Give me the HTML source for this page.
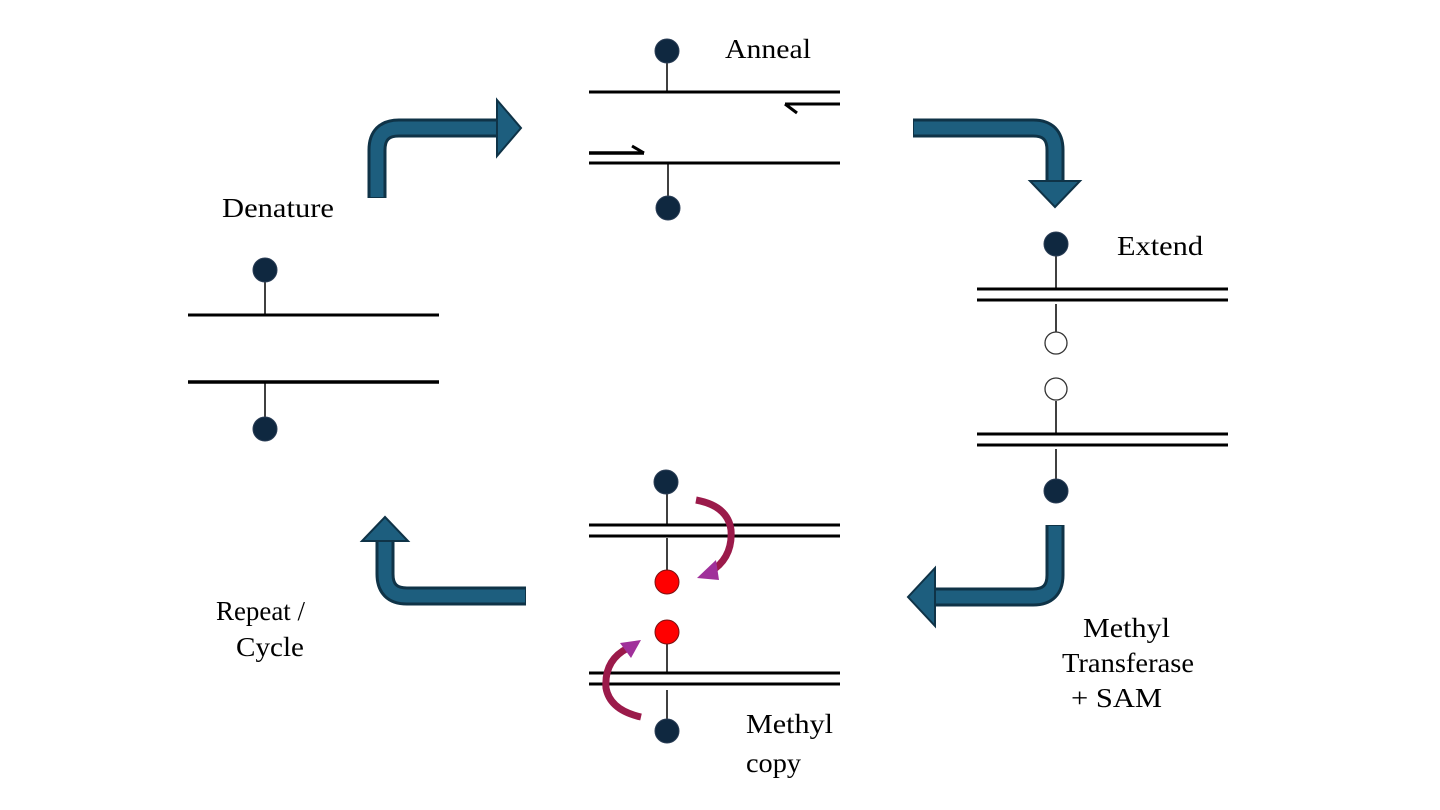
<!DOCTYPE html>
<html><head><meta charset="utf-8"><style>
html,body{margin:0;padding:0;background:#fff;}
svg{display:block;}
text{font-family:"Liberation Serif",serif;font-size:27px;fill:#000;}
</style></head><body>
<svg width="1440" height="810" viewBox="0 0 1440 810" xmlns="http://www.w3.org/2000/svg">
<defs>
<g id="dot"><circle r="12" fill="#0f2840" stroke="#2a3d55" stroke-width="1"/></g>
</defs>
<g stroke-linejoin="miter" fill="none">
<path d="M377 198 V150 Q377 128 399 128 H500" stroke="#0f3347" stroke-width="19"/>
<path d="M377 197 V150 Q377 128 399 128 H502" stroke="#1d5e7e" stroke-width="13"/>
<polygon points="497,100 521,128 497,156" fill="#1d5e7e" stroke="#0f3347" stroke-width="2"/>
<path d="M913 128 H1033 Q1055 128 1055 150 V182" stroke="#0f3347" stroke-width="19"/>
<path d="M914 128 H1033 Q1055 128 1055 150 V184" stroke="#1d5e7e" stroke-width="13"/>
<polygon points="1030,181 1080,181 1055,207" fill="#1d5e7e" stroke="#0f3347" stroke-width="2"/>
<path d="M1055 525 V575 Q1055 597 1033 597 H935" stroke="#0f3347" stroke-width="19"/>
<path d="M1055 526 V575 Q1055 597 1033 597 H933" stroke="#1d5e7e" stroke-width="13"/>
<polygon points="935,568 935,626 908,597" fill="#1d5e7e" stroke="#0f3347" stroke-width="2"/>
<path d="M526 596 H407 Q385 596 385 574 V540" stroke="#0f3347" stroke-width="19"/>
<path d="M525 596 H407 Q385 596 385 574 V538" stroke="#1d5e7e" stroke-width="13"/>
<polygon points="362,541 408,541 385,517" fill="#1d5e7e" stroke="#0f3347" stroke-width="2"/>
</g>

<g stroke="#000" fill="none">
<line x1="265" y1="280" x2="265" y2="315" stroke-width="1.5"/>
<line x1="188" y1="315" x2="439" y2="315" stroke-width="3"/>
<line x1="188" y1="382" x2="439" y2="382" stroke-width="3.5"/>
<line x1="265" y1="382" x2="265" y2="420" stroke-width="1.5"/>
<line x1="667" y1="60" x2="667" y2="92" stroke-width="1.5"/>
<line x1="589" y1="92" x2="840" y2="92" stroke-width="3"/>
<line x1="785" y1="104" x2="840" y2="104" stroke-width="3"/>
<line x1="785" y1="104" x2="797" y2="113" stroke-width="3"/>
<line x1="589" y1="153" x2="644" y2="153" stroke-width="3.5"/>
<line x1="644" y1="153" x2="632" y2="146" stroke-width="3"/>
<line x1="589" y1="163" x2="840" y2="163" stroke-width="3"/>
<line x1="668" y1="163" x2="668" y2="198" stroke-width="1.5"/>
<line x1="1056" y1="254" x2="1056" y2="289" stroke-width="1.5"/>
<line x1="977" y1="289" x2="1228" y2="289" stroke-width="3"/>
<line x1="977" y1="300" x2="1228" y2="300" stroke-width="3"/>
<line x1="1056" y1="304" x2="1056" y2="332" stroke-width="1.5"/>
<line x1="1056" y1="401" x2="1056" y2="434" stroke-width="1.5"/>
<line x1="977" y1="434" x2="1228" y2="434" stroke-width="3"/>
<line x1="977" y1="445" x2="1228" y2="445" stroke-width="3"/>
<line x1="1056" y1="449" x2="1056" y2="481" stroke-width="1.5"/>
<line x1="667" y1="492" x2="667" y2="525" stroke-width="1.5"/>
<line x1="589" y1="525" x2="840" y2="525" stroke-width="3"/>
<line x1="589" y1="536" x2="840" y2="536" stroke-width="3"/>
<line x1="667" y1="538" x2="667" y2="572" stroke-width="1.5"/>
<line x1="667" y1="642" x2="667" y2="673" stroke-width="1.5"/>
<line x1="589" y1="673" x2="840" y2="673" stroke-width="3"/>
<line x1="589" y1="684" x2="840" y2="684" stroke-width="3"/>
<line x1="667" y1="690" x2="667" y2="720" stroke-width="1.5"/>
</g>
<circle cx="1056" cy="343" r="11" fill="#fff" stroke="#333" stroke-width="1.3"/>
<circle cx="1056" cy="389" r="11" fill="#fff" stroke="#333" stroke-width="1.3"/>

<use href="#dot" x="265" y="270"/>
<use href="#dot" x="265" y="429"/>
<use href="#dot" x="667" y="51"/>
<use href="#dot" x="668" y="208"/>
<use href="#dot" x="1056" y="244"/>
<use href="#dot" x="1056" y="491"/>
<use href="#dot" x="666" y="482"/>
<use href="#dot" x="667" y="731"/>
<circle cx="667" cy="582" r="12" fill="#f00" stroke="#7a1010" stroke-width="1"/>
<circle cx="667" cy="632" r="12" fill="#f00" stroke="#7a1010" stroke-width="1"/>

<path d="M696 500 Q728 506 731 530 Q733 558 710 572" fill="none" stroke="#9b1a4a" stroke-width="7"/>
<polygon points="697,578 716,560 719,580" fill="#a0309a"/>
<path d="M641 717 Q610 710 606 688 Q604 660 628 648" fill="none" stroke="#9b1a4a" stroke-width="7"/>
<polygon points="641,640 620,643 631,658" fill="#a0309a"/>

<text x="222" y="217" textLength="112" lengthAdjust="spacingAndGlyphs">Denature</text>
<text x="725" y="58" textLength="86" lengthAdjust="spacingAndGlyphs">Anneal</text>
<text x="1117" y="255" textLength="86" lengthAdjust="spacingAndGlyphs">Extend</text>
<text x="1083" y="637" textLength="87" lengthAdjust="spacingAndGlyphs">Methyl</text>
<text x="1062" y="672" textLength="132" lengthAdjust="spacingAndGlyphs">Transferase</text>
<text x="1071" y="707" textLength="91" lengthAdjust="spacingAndGlyphs">+  SAM</text>
<text x="216" y="620" textLength="89" lengthAdjust="spacingAndGlyphs">Repeat /</text>
<text x="236" y="656" textLength="68" lengthAdjust="spacingAndGlyphs">Cycle</text>
<text x="746" y="733" textLength="87" lengthAdjust="spacingAndGlyphs">Methyl</text>
<text x="746" y="772" textLength="55" lengthAdjust="spacingAndGlyphs">copy</text>
</svg>
</body></html>
